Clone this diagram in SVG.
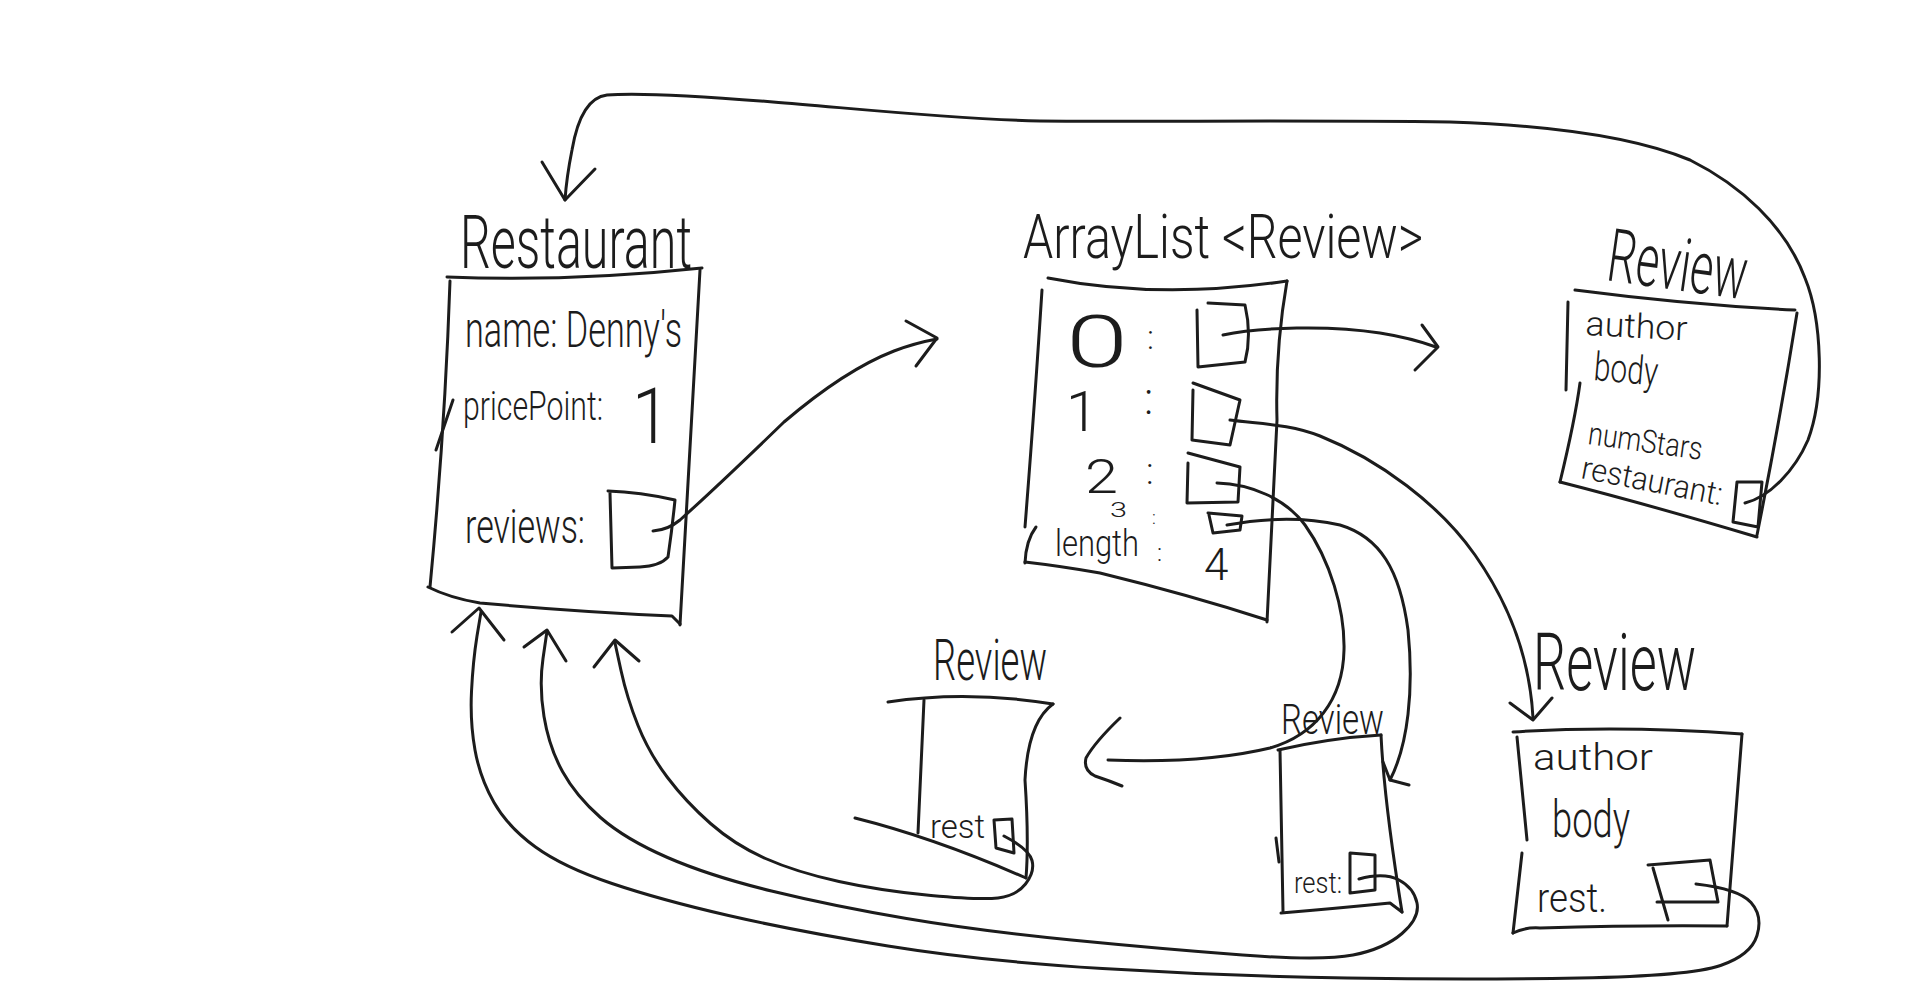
<svg xmlns="http://www.w3.org/2000/svg" width="1920" height="997" viewBox="0 0 1920 997">
  <style>
    .ink { fill: none; stroke: #1c1c1c; stroke-width: 3; stroke-linecap: round; stroke-linejoin: round; }
    .txt { font-family: Roboto, "Liberation Sans", Arial, sans-serif; font-weight: 300; fill: #1c1c1c; }
  </style>
  <rect width="1920" height="997" fill="#ffffff"/>

  <!-- Restaurant object -->
  <g id="node-restaurant">
    <text class="txt" x="460" y="268" font-size="74" textLength="232" lengthAdjust="spacingAndGlyphs">Restaurant</text>
    <path class="ink" d="M447,277 Q570,282 702,268"/>
    <path class="ink" d="M700,270 Q690,440 680,625"/>
    <path class="ink" d="M450,281 Q445,430 430,587"/>
    <path class="ink" d="M428,587 Q450,598 480,603 Q580,612 672,616 L680,624"/>
    <path class="ink" d="M453,400 L436,450"/>
    <text class="txt" x="465" y="347" font-size="50" textLength="217" lengthAdjust="spacingAndGlyphs">name: Denny's</text>
    <text class="txt" x="463" y="420" font-size="40" textLength="140" lengthAdjust="spacingAndGlyphs">pricePoint:</text>
    <text class="txt" x="632" y="443" font-size="78" textLength="38" lengthAdjust="spacingAndGlyphs">1</text>
    <text class="txt" x="465" y="543" font-size="48" textLength="120" lengthAdjust="spacingAndGlyphs">reviews:</text>
    <path class="ink" d="M608,491 Q640,492 675,500 Q672,530 668,557 Q660,566 640,567 L612,568 L610,493"/>
  </g>

  <!-- ArrayList<Review> object -->
  <g id="node-arraylist">
    <text class="txt" x="1023" y="258" font-size="62" textLength="400" lengthAdjust="spacingAndGlyphs">ArrayList &lt;Review&gt;</text>
    <path class="ink" d="M1048,278 Q1160,300 1287,281"/>
    <path class="ink" d="M1287,281 Q1275,350 1277,420 Q1272,530 1267,622"/>
    <path class="ink" d="M1042,290 Q1035,400 1025,527"/>
    <path class="ink" d="M1036,527 Q1026,540 1025,563"/>
    <path class="ink" d="M1025,562 Q1060,566 1100,573 Q1190,595 1267,620"/>
    <text class="txt" x="1066" y="367" font-size="72" textLength="62" lengthAdjust="spacingAndGlyphs">0</text>
    <text class="txt" x="1147" y="349" font-size="33">:</text>
    <path class="ink" d="M1197,310 L1198,367 L1245,362 Q1252,335 1245,305 L1208,303"/>
    <text class="txt" x="1066" y="431" font-size="56" textLength="32" lengthAdjust="spacingAndGlyphs">1</text>
    <text class="txt" x="1144" y="414" font-size="44">:</text>
    <path class="ink" d="M1193,383 L1240,400 L1230,445 L1192,440 L1193,390"/>
    <text class="txt" x="1085" y="493" font-size="48" textLength="33" lengthAdjust="spacingAndGlyphs">2</text>
    <text class="txt" x="1146" y="484" font-size="36">:</text>
    <path class="ink" d="M1188,453 L1240,467 L1238,502 L1187,503 L1188,463"/>
    <text class="txt" x="1110" y="517" font-size="20" textLength="17" lengthAdjust="spacingAndGlyphs">3</text>
    <text class="txt" x="1152" y="524" font-size="18">:</text>
    <path class="ink" d="M1208,513 L1242,516 L1240,530 L1213,533 L1209,515"/>
    <text class="txt" x="1055" y="556" font-size="36" textLength="84" lengthAdjust="spacingAndGlyphs">length</text>
    <text class="txt" x="1157" y="561" font-size="24">:</text>
    <text class="txt" x="1204" y="580" font-size="44">4</text>
  </g>

  <!-- Review (top right) -->
  <g id="node-review-a">
    <text class="txt" x="1605" y="280" font-size="74" textLength="140" lengthAdjust="spacingAndGlyphs" transform="rotate(8 1605 280)">Review</text>
    <path class="ink" d="M1575,290 Q1690,305 1795,310"/>
    <path class="ink" d="M1797,313 Q1780,420 1757,535"/>
    <path class="ink" d="M1568,302 L1566,390"/>
    <path class="ink" d="M1580,383 Q1575,420 1560,482"/>
    <path class="ink" d="M1560,482 Q1650,505 1757,537"/>
    <text class="txt" x="1585" y="335" font-size="34" textLength="102" lengthAdjust="spacingAndGlyphs" transform="rotate(3 1585 335)">author</text>
    <text class="txt" x="1593" y="380" font-size="40" textLength="64" lengthAdjust="spacingAndGlyphs" transform="rotate(5 1593 380)">body</text>
    <text class="txt" x="1587" y="444" font-size="32" textLength="115" lengthAdjust="spacingAndGlyphs" transform="rotate(8 1587 444)">numStars</text>
    <text class="txt" x="1580" y="478" font-size="32" textLength="143" lengthAdjust="spacingAndGlyphs" transform="rotate(11 1580 478)">restaurant:</text>
    <path class="ink" d="M1737,482 L1762,482 L1758,527 L1733,522 Z"/>
  </g>

  <!-- Review (bottom right) -->
  <g id="node-review-b">
    <text class="txt" x="1533" y="690" font-size="80" textLength="163" lengthAdjust="spacingAndGlyphs">Review</text>
    <path class="ink" d="M1513,732 Q1620,725 1742,734"/>
    <path class="ink" d="M1742,734 L1727,926"/>
    <path class="ink" d="M1517,737 L1527,840"/>
    <path class="ink" d="M1522,853 L1513,933"/>
    <path class="ink" d="M1513,933 Q1525,927 1540,928 Q1640,925 1727,926"/>
    <text class="txt" x="1533" y="770" font-size="36" textLength="120" lengthAdjust="spacingAndGlyphs">author</text>
    <text class="txt" x="1552" y="837" font-size="52" textLength="78" lengthAdjust="spacingAndGlyphs">body</text>
    <text class="txt" x="1537" y="912" font-size="40" textLength="70" lengthAdjust="spacingAndGlyphs">rest.</text>
    <path class="ink" d="M1648,865 L1710,860 L1718,902 L1657,902"/>
    <path class="ink" d="M1653,868 L1668,920"/>
  </g>

  <!-- Review (bottom left) -->
  <g id="node-review-c">
    <text class="txt" x="933" y="680" font-size="58" textLength="114" lengthAdjust="spacingAndGlyphs">Review</text>
    <path class="ink" d="M888,702 Q967,690 1053,704"/>
    <path class="ink" d="M1053,704 Q1028,722 1025,780 Q1029,840 1026,878"/>
    <path class="ink" d="M924,700 L918,833"/>
    <path class="ink" d="M855,818 Q935,838 1026,878"/>
    <text class="txt" x="930" y="838" font-size="34" textLength="55" lengthAdjust="spacingAndGlyphs">rest</text>
    <path class="ink" d="M994,820 L1012,819 L1014,853 L996,848 Z"/>
  </g>

  <!-- Review (bottom middle) -->
  <g id="node-review-d">
    <text class="txt" x="1281" y="734" font-size="42" textLength="103" lengthAdjust="spacingAndGlyphs">Review</text>
    <path class="ink" d="M1278,750 Q1330,738 1381,735"/>
    <path class="ink" d="M1381,735 Q1384,800 1402,912"/>
    <path class="ink" d="M1280,750 L1283,911"/>
    <path class="ink" d="M1276,838 L1279,862"/>
    <path class="ink" d="M1281,913 Q1340,908 1390,903 L1402,912"/>
    <text class="txt" x="1294" y="893" font-size="30" textLength="48" lengthAdjust="spacingAndGlyphs">rest:</text>
    <path class="ink" d="M1350,853 L1375,855 L1375,890 L1350,893 Z"/>
  </g>

  <!-- Reference arrows -->
  <g id="connectors">
    <!-- restaurant.reviews -> list -->
    <path class="ink" d="M653,531 Q668,530 680,520 Q720,484 784,422 Q845,370 894,351 Q915,343 937,339"/>
    <path class="ink" d="M906,321 L937,338 L916,366"/>
    <!-- list[0] -> review a -->
    <path class="ink" d="M1223,335 C1260,327 1330,325 1380,333 C1405,337 1425,343 1436,347"/>
    <path class="ink" d="M1422,325 L1438,347 L1415,370"/>
    <!-- list[1] -> review b -->
    <path class="ink" d="M1230,420 C1260,424 1290,424 1320,436 C1380,460 1440,505 1475,555 C1510,605 1530,660 1533,718"/>
    <path class="ink" d="M1510,703 L1533,720 L1552,698"/>
    <!-- list[2] -> review c -->
    <path class="ink" d="M1217,483 C1250,484 1285,498 1305,525 C1330,560 1345,610 1344,650 C1343,700 1315,735 1270,748 C1220,760 1160,762 1108,760"/>
    <path class="ink" d="M1120,718 Q1095,742 1086,758 Q1083,770 1095,776 Q1110,781 1122,786"/>
    <!-- list[3] -> review d -->
    <path class="ink" d="M1227,525 C1260,519 1300,516 1340,525 C1380,537 1400,570 1408,630 C1414,690 1408,745 1390,780"/>
    <path class="ink" d="M1383,762 L1390,780 L1409,785"/>
    <!-- review a.restaurant -> restaurant -->
    <path class="ink" d="M1745,503 C1770,497 1795,470 1808,440 C1825,395 1822,320 1805,278 C1785,225 1740,185 1690,160 C1630,135 1540,125 1450,122 C1300,120 1150,122 1040,121 C950,119 850,108 773,102 C700,96 640,92 607,95 C590,97 578,115 572,150 C568,170 566,185 565,200"/>
    <path class="ink" d="M542,162 L565,200 L595,169"/>
    <!-- review b.rest -> restaurant -->
    <path class="ink" d="M481,612 L477,636 Q473,661 471.5,691.5 Q470,722 475,750 Q480,778 494,802.5 Q508,827 535.5,847 Q563,867 612,883.5 Q661,900 728.5,915.5 Q796,931 888,946 Q980,961 1102.5,968.5 Q1225,976 1347,978 Q1469,980 1579.5,978 Q1690,976 1720.5,965.5 Q1751,955 1757,935.5 Q1763,916 1751,902.5 Q1739,889 1696,884"/>
    <path class="ink" d="M452,632 L479,608 L504,640"/>
    <!-- review d.rest -> restaurant -->
    <path class="ink" d="M547,631 L543,658.5 Q539,686 544,716.5 Q549,747 562.5,771.5 Q576,796 600.5,817.5 Q625,839 667.5,857.5 Q710,876 771.5,891 Q833,906 906.5,918.5 Q980,931 1071.5,940 Q1163,949 1242.5,955 Q1322,961 1353,955 Q1384,949 1402,933.5 Q1420,918 1417,903 Q1414,888 1399,880 Q1384,872 1359,879"/>
    <path class="ink" d="M524,647 L547,630 L566,661"/>
    <!-- review c.rest -> restaurant -->
    <path class="ink" d="M615,643 L621,670.5 Q627,698 638,725.5 Q649,753 667.5,777.5 Q686,802 710.5,823.5 Q735,845 765.5,858.5 Q796,872 839,881.5 Q882,891 931,895.5 Q980,900 998,898 Q1016,896 1025.5,884 Q1035,872 1032,860.5 Q1029,849 1004,836"/>
    <path class="ink" d="M594,667 L615,640 L639,661"/>
  </g>
</svg>
